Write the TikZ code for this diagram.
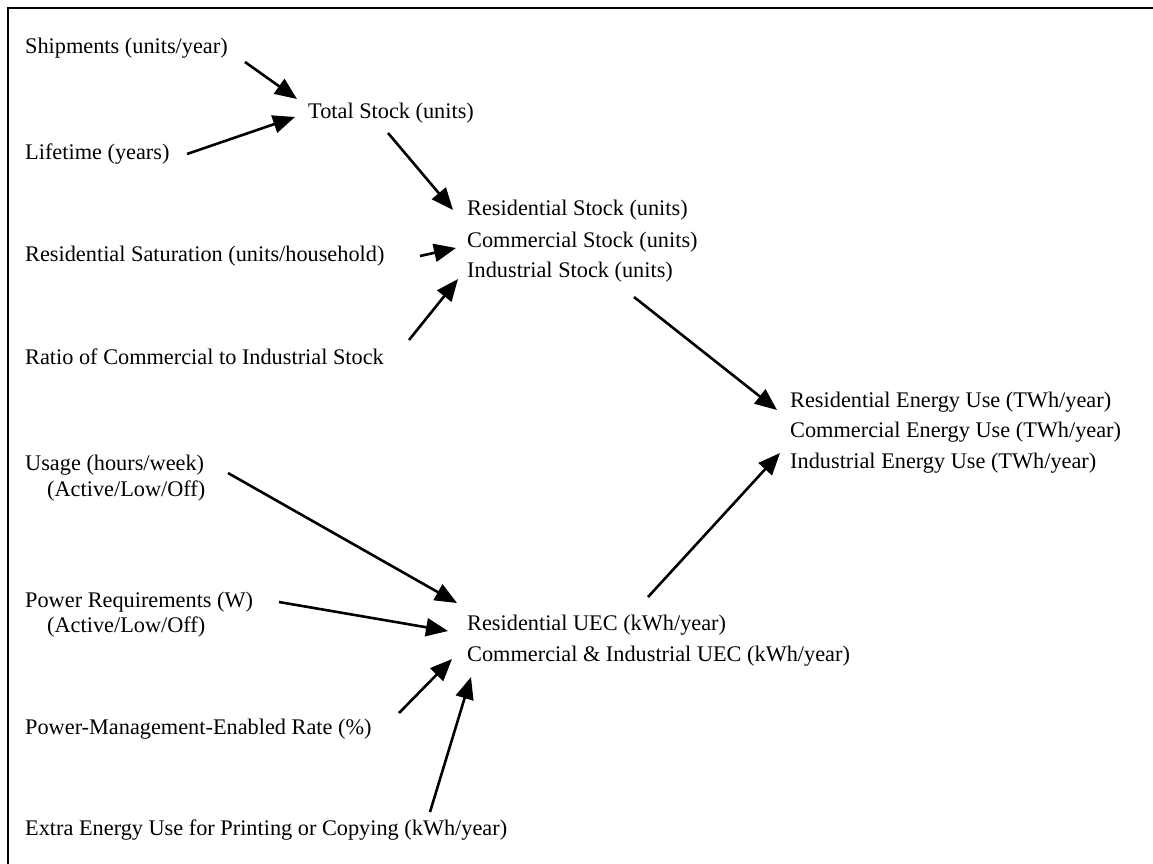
\documentclass[tikz,border=0pt]{standalone}
\usepackage{fontspec}
\setmainfont{Liberation Serif}
\usetikzlibrary{arrows.meta}
\begin{document}
\begin{tikzpicture}[x=1pt,y=-1pt,
  lbl/.style={anchor=base west, inner sep=0pt, font=\fontsize{22.3}{26}\selectfont},
  arr/.style={line width=2.6pt, -{Triangle[length=22pt,width=18pt]}}]
\useasboundingbox (0,0) rectangle (1153,863);
\draw[line width=2pt] (8,8) rectangle (1175,885);
% text nodes
\node[lbl] (ship) at (25,53) {Shipments (units/year)};
\node[lbl] (total) at (308,118) {Total Stock (units)};
\node[lbl] (life) at (25,159) {Lifetime (years)};
\node[lbl] (stockR) at (467,215) {Residential Stock (units)};
\node[lbl] (stockC) at (467,247) {Commercial Stock (units)};
\node[lbl] (stockI) at (467,277) {Industrial Stock (units)};
\node[lbl] (sat) at (25,261) {Residential Saturation (units/household)};
\node[lbl] (ratio) at (25,364) {Ratio of Commercial to Industrial Stock};
\node[lbl] (energyR) at (790,407) {Residential Energy Use (TWh/year)};
\node[lbl] (energyC) at (790,437) {Commercial Energy Use (TWh/year)};
\node[lbl] (energyI) at (790,468) {Industrial Energy Use (TWh/year)};
\node[lbl] (usage) at (25,470) {Usage (hours/week)};
\node[lbl] (usage2) at (47,496) {(Active/Low/Off)};
\node[lbl] (power) at (25,607) {Power Requirements (W)};
\node[lbl] (power2) at (47,632) {(Active/Low/Off)};
\node[lbl] (uecR) at (467,630) {Residential UEC (kWh/year)};
\node[lbl] (uecC) at (467,661) {Commercial \& Industrial UEC (kWh/year)};
\node[lbl] (pm) at (25,734) {Power-Management-Enabled Rate (\%)};
\node[lbl] (extra) at (25,835) {Extra Energy Use for Printing or Copying (kWh/year)};
% connector end points
\coordinate (a1s) at (245,62);  \coordinate (a1e) at (297,99);
\coordinate (a2s) at (187,154); \coordinate (a2e) at (295,117);
\coordinate (a3s) at (388,133); \coordinate (a3e) at (453,210);
\coordinate (a4s) at (420,256); \coordinate (a4e) at (456,248);
\coordinate (a5s) at (409,340); \coordinate (a5e) at (458,279);
\coordinate (a6s) at (634,297); \coordinate (a6e) at (777,410);
\coordinate (a7s) at (648,597); \coordinate (a7e) at (780,453);
\coordinate (a8s) at (228,473); \coordinate (a8e) at (457,603);
\coordinate (a9s) at (279,602); \coordinate (a9e) at (448,631);
\coordinate (a10s) at (399,713); \coordinate (a10e) at (452,659);
\coordinate (a11s) at (430,812); \coordinate (a11e) at (471,677);
% connectors
\draw[arr] (a1s) -- (a1e);
\draw[arr] (a2s) -- (a2e);
\draw[arr] (a3s) -- (a3e);
\draw[arr] (a4s) -- (a4e);
\draw[arr] (a5s) -- (a5e);
\draw[arr] (a6s) -- (a6e);
\draw[arr] (a7s) -- (a7e);
\draw[arr] (a8s) -- (a8e);
\draw[arr] (a9s) -- (a9e);
\draw[arr] (a10s) -- (a10e);
\draw[arr] (a11s) -- (a11e);
\end{tikzpicture}
\end{document}
